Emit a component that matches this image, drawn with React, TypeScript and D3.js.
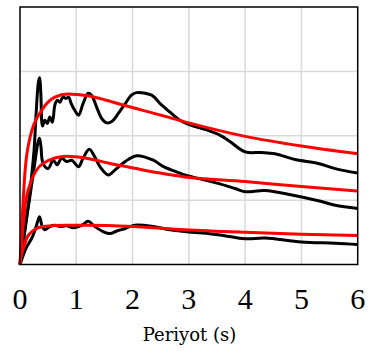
import * as d3 from "d3";
import { useEffect, useRef } from "react";

type Pt = [number, number];

// Periyot (s), spectral value (grid units)
const kayitUst: Pt[] = [
  [0, 0], [0.09, 0.54], [0.18, 1.16], [0.25, 1.78], [0.29, 2.40], [0.33, 2.85], [0.35, 2.9],
  [0.37, 2.65], [0.4, 2.15], [0.44, 2.24], [0.485, 2.19], [0.53, 2.29], [0.575, 2.21],
  [0.62, 2.48], [0.66, 2.55], [0.71, 2.52], [0.76, 2.6], [0.82, 2.58], [0.865, 2.6],
  [0.91, 2.5], [0.97, 2.4], [1.04, 2.32], [1.12, 2.5], [1.21, 2.66], [1.27, 2.63],
  [1.36, 2.45], [1.45, 2.27], [1.54, 2.2], [1.63, 2.22], [1.75, 2.35], [1.87, 2.5],
  [1.98, 2.63], [2.07, 2.67], [2.34, 2.63], [2.49, 2.5], [2.66, 2.37], [2.84, 2.24],
  [3.02, 2.17], [3.32, 2.09], [3.55, 2.01], [3.73, 1.91], [4.0, 1.75], [4.29, 1.74],
  [4.53, 1.72], [4.89, 1.63], [5.3, 1.57], [5.6, 1.49], [6.0, 1.42],
];

const kayitOrta: Pt[] = [
  [0, 0], [0.07, 0.46], [0.18, 1.08], [0.27, 1.62], [0.32, 1.9], [0.345, 1.96], [0.37, 1.85],
  [0.41, 1.57], [0.5, 1.49], [0.59, 1.62], [0.66, 1.55], [0.74, 1.65], [0.83, 1.6],
  [0.92, 1.62], [1.04, 1.52], [1.12, 1.65], [1.23, 1.79], [1.33, 1.67], [1.42, 1.52],
  [1.57, 1.39], [1.69, 1.47], [1.87, 1.6], [2.07, 1.69], [2.37, 1.62], [2.55, 1.52],
  [2.84, 1.42], [2.93, 1.39], [3.2, 1.33], [3.52, 1.26], [3.82, 1.18], [4.0, 1.13],
  [4.35, 1.15], [4.83, 1.08], [5.3, 0.99], [5.6, 0.92], [6.0, 0.87],
];

const kayitAlt: Pt[] = [
  [0, 0], [0.11, 0.26], [0.21, 0.41], [0.28, 0.57], [0.325, 0.7], [0.345, 0.74], [0.37, 0.68],
  [0.39, 0.6], [0.44, 0.54], [0.53, 0.59], [0.62, 0.61], [0.71, 0.59], [0.83, 0.6],
  [0.95, 0.57], [1.1, 0.61], [1.21, 0.67], [1.33, 0.59], [1.48, 0.51], [1.6, 0.48],
  [1.72, 0.52], [1.87, 0.56], [2.04, 0.61], [2.37, 0.59], [2.66, 0.54], [2.96, 0.51],
  [3.55, 0.46], [4.0, 0.4], [4.35, 0.41], [5.0, 0.35], [5.6, 0.33], [6.0, 0.31],
];

const tasarimUst: Pt[] = [
  [0, 0], [0.05, 0.9], [0.09, 1.45], [0.18, 1.98], [0.39, 2.4], [0.62, 2.6], [0.85, 2.65],
  [1.2, 2.62], [1.5, 2.56], [1.78, 2.49], [2.5, 2.32], [3.0, 2.2], [4.0, 1.99], [5.0, 1.84],
  [6.0, 1.72],
];

const tasarimOrta: Pt[] = [
  [0, 0], [0.05, 0.55], [0.09, 0.9], [0.18, 1.25], [0.41, 1.57], [0.83, 1.68], [1.18, 1.65],
  [1.6, 1.57], [2.01, 1.5], [2.49, 1.42], [2.93, 1.36], [4.0, 1.29], [5.0, 1.21], [6.0, 1.14],
];

const tasarimAlt: Pt[] = [
  [0, 0.05], [0.05, 0.22], [0.12, 0.41], [0.24, 0.53], [0.41, 0.59], [0.83, 0.61],
  [1.18, 0.61], [2.01, 0.59], [2.93, 0.54], [4.0, 0.5], [5.0, 0.47], [6.0, 0.45],
];

const xTicks = [0, 1, 2, 3, 4, 5, 6];
const yGrid = [1, 2, 3];

export default function App() {
  const ref = useRef<SVGSVGElement | null>(null);

  useEffect(() => {
    if (!ref.current) return;
    const svg = d3.select(ref.current);
    svg.selectAll("*").remove();

    const left = 20, right = 357.7, top = 7, bottom = 264.5;

    const x = d3.scaleLinear().domain([0, 6]).range([left, right]);
    const y = d3.scaleLinear().domain([0, 4]).range([bottom, top]);

    const grid = svg.append("g").attr("stroke", "#d9d9d9").attr("stroke-width", 1.5);
    grid
      .selectAll("line.v")
      .data(xTicks.slice(1, -1))
      .enter()
      .append("line")
      .attr("x1", (d) => x(d))
      .attr("x2", (d) => x(d))
      .attr("y1", top)
      .attr("y2", bottom);
    grid
      .selectAll("line.h")
      .data(yGrid)
      .enter()
      .append("line")
      .attr("x1", left)
      .attr("x2", right)
      .attr("y1", (d) => y(d))
      .attr("y2", (d) => y(d));

    const line = d3
      .line<Pt>()
      .x((d) => x(d[0]))
      .y((d) => y(d[1]))
      .curve(d3.curveCatmullRom.alpha(0.5));

    const smooth = d3
      .line<Pt>()
      .x((d) => x(d[0]))
      .y((d) => y(d[1]))
      .curve(d3.curveMonotoneX);

    [kayitUst, kayitOrta, kayitAlt].forEach((s) => {
      svg
        .append("path")
        .attr("d", line(s)!)
        .attr("fill", "none")
        .attr("stroke", "#000")
        .attr("stroke-width", 3)
        .attr("stroke-linejoin", "round");
    });

    [tasarimUst, tasarimOrta, tasarimAlt].forEach((s) => {
      svg
        .append("path")
        .attr("d", smooth(s)!)
        .attr("fill", "none")
        .attr("stroke", "#ff0000")
        .attr("stroke-width", 3)
        .attr("stroke-linejoin", "round");
    });

    // frame
    svg
      .append("rect")
      .attr("x", left)
      .attr("y", top)
      .attr("width", right - left)
      .attr("height", bottom - top)
      .attr("fill", "none")
      .attr("stroke", "#000")
      .attr("stroke-width", 1.5);

    svg
      .selectAll("text.tick")
      .data(xTicks)
      .enter()
      .append("text")
      .attr("class", "tick")
      .attr("x", (d) => x(d))
      .attr("y", 309)
      .attr("text-anchor", "middle")
      .style("font-family", "'Liberation Serif', serif")
      .style("font-size", "30px")
      .text((d) => d.toString());

    svg
      .append("text")
      .attr("x", 189.5)
      .attr("y", 341)
      .attr("text-anchor", "middle")
      .style("font-family", "'DejaVu Serif', serif")
      .style("font-size", "18px")
      .text("Periyot (s)");
  }, []);

  return (
    <svg
      ref={ref}
      width={370}
      height={351}
      style={{ position: "absolute", left: 0, top: 0, background: "#fff" }}
    ></svg>
  );
}
